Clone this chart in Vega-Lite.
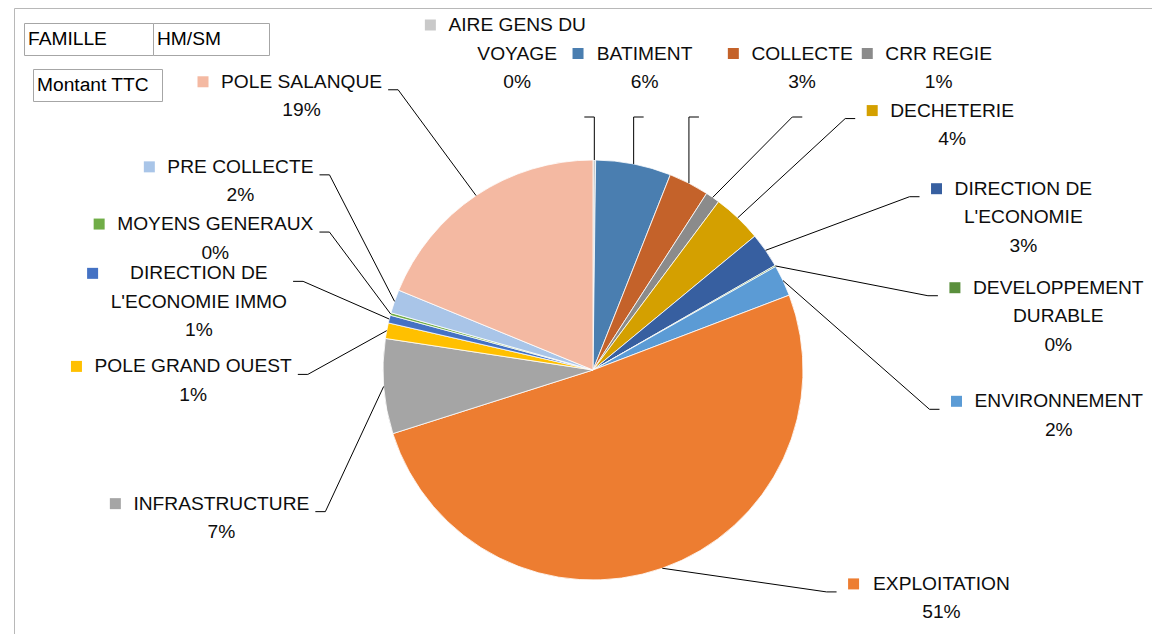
{
  "$schema": "https://vega.github.io/schema/vega-lite/v6.json",
  "width": 1158,
  "height": 724,
  "autosize": {"type": "none"},
  "padding": {"left": 14, "top": 8, "right": -20, "bottom": -98},
  "background": "#ffffff",
  "config": {"view": {"stroke": "#b8b8b8", "strokeWidth": 1}, "font": "Liberation Sans"},
  "resolve": {"scale": {"shape": "independent"}, "legend": {"shape": "independent"}},
  "layer": [
    {
      "data": {"values": [
        {"famille": "AIRE GENS DU VOYAGE", "part": 0.2},
        {"famille": "BATIMENT", "part": 5.8},
        {"famille": "COLLECTE", "part": 3.1},
        {"famille": "CRR REGIE", "part": 1.1},
        {"famille": "DECHETERIE", "part": 3.8},
        {"famille": "DIRECTION DE L'ECONOMIE", "part": 2.7},
        {"famille": "DEVELOPPEMENT DURABLE", "part": 0.1},
        {"famille": "ENVIRONNEMENT", "part": 2.4},
        {"famille": "EXPLOITATION", "part": 50.9},
        {"famille": "INFRASTRUCTURE", "part": 7.3},
        {"famille": "POLE GRAND OUEST", "part": 1.2},
        {"famille": "DIRECTION DE L'ECONOMIE IMMO", "part": 0.6},
        {"famille": "MOYENS GENERAUX", "part": 0.2},
        {"famille": "PRE COLLECTE", "part": 1.8},
        {"famille": "POLE SALANQUE", "part": 18.8}
      ]},
      "transform": [
        {"window": [{"op": "row_number", "as": "rang"}]},
        {"joinaggregate": [{"op": "sum", "field": "part", "as": "total"}]},
        {"window": [{"op": "sum", "field": "part", "as": "cum"}], "sort": [{"field": "rang"}], "frame": [null, 0]},
        {"calculate": "(datum.cum - datum.part / 2) / datum.total * 2 * PI", "as": "amid"},
        {"calculate": "datum.amid < PI ? 1 : -1", "as": "cote"},
        {"joinaggregate": [{"op": "count", "as": "n"}], "groupby": ["cote"]},
        {"window": [{"op": "row_number", "as": "j"}], "groupby": ["cote"], "sort": [{"field": "rang"}]},
        {"calculate": "datum.cote == 1 ? -9 + 134 * pow((datum.j - 1) / (datum.n - 1), 1.15) : 244 + 66 * pow((datum.j - 1) / (datum.n - 1), 0.7)", "as": "u"},
        {"calculate": "(0.8 * datum.u + 0.2 * datum.amid * 180 / PI) * PI / 180", "as": "phi"},
        {"calculate": "lastindexof(substring(datum.famille, 0, 17), ' ')", "as": "coupe"},
        {"calculate": "length(datum.famille) > 16 ? substring(datum.famille, 0, datum.coupe) : datum.famille", "as": "l1"},
        {"calculate": "length(datum.famille) > 16 ? substring(datum.famille, datum.coupe + 1) : ''", "as": "l2"},
        {"calculate": "format(datum.part / datum.total, '.0%')", "as": "pct"},
        {"calculate": "datum.l2 == '' ? [datum.l1, datum.pct] : [datum.l1, datum.l2, datum.pct]", "as": "texte"},
        {"calculate": "datum.l2 == '' ? 2 : 3", "as": "nl"},
        {"calculate": "19.2*(0.667*length(datum.l1)+0.055*length(replace(datum.l1,regexp('[^CDHNRU]','g'),''))+0.111*length(replace(datum.l1,regexp('[^GOQ]','g'),''))+0.166*length(replace(datum.l1,regexp('[^M]','g'),''))+0.277*length(replace(datum.l1,regexp('[^W]','g'),''))-0.056*length(replace(datum.l1,regexp('[^FTZ]','g'),''))-0.111*length(replace(datum.l1,regexp('[^L]','g'),''))-0.389*length(replace(datum.l1,regexp('[^I /]','g'),''))-0.476*length(replace(datum.l1,regexp(\"[^']\",'g'),'')))", "as": "w1"},
        {"calculate": "19.2*(0.667*length(datum.l2)+0.055*length(replace(datum.l2,regexp('[^CDHNRU]','g'),''))+0.111*length(replace(datum.l2,regexp('[^GOQ]','g'),''))+0.166*length(replace(datum.l2,regexp('[^M]','g'),''))+0.277*length(replace(datum.l2,regexp('[^W]','g'),''))-0.056*length(replace(datum.l2,regexp('[^FTZ]','g'),''))-0.111*length(replace(datum.l2,regexp('[^L]','g'),''))-0.389*length(replace(datum.l2,regexp('[^I /]','g'),''))-0.476*length(replace(datum.l2,regexp(\"[^']\",'g'),'')))", "as": "w2"},
        {"calculate": "max(datum.w1, datum.w2)", "as": "wmax"},
        {"calculate": "362 - (datum.cote == 1 ? (cos(datum.phi) > 0 ? 380 : 340) : 400) * cos(datum.phi)", "as": "ly0"},
        {"calculate": "74 - (datum.nl - 1) * 14.25", "as": "ymin"},
        {"calculate": "max(datum.ly0, datum.ymin)", "as": "ly"},
        {"calculate": "datum.ly0 < datum.ymin", "as": "haut"},
        {"calculate": "579 + (datum.cote == 1 ? 470 : 400) * sin(datum.phi) * (datum.haut ? 1.3 : 1)", "as": "lx"},
        {"calculate": "datum.ly - (datum.nl - 1) * 14.25", "as": "y1"},
        {"calculate": "datum.lx - datum.wmax / 2 - 18", "as": "sqx"},
        {"calculate": "579 + 210 * sin(datum.amid)", "as": "ex"},
        {"calculate": "362 - 210 * cos(datum.amid)", "as": "ey"},
        {"calculate": "datum.haut ? clamp(datum.ex, datum.sqx - 75, datum.lx + datum.wmax / 2 + 20) : (datum.cote == 1 ? datum.sqx - 27 : datum.lx + datum.wmax / 2 + 16)", "as": "elx"},
        {"calculate": "datum.haut ? datum.ly + (datum.nl - 1) * 14.25 + 35 : datum.y1 + 8", "as": "ely"},
        {"calculate": "datum.haut ? datum.elx + (datum.lx > datum.elx ? 10 : -10) : (datum.cote == 1 ? datum.sqx - 17 : datum.lx + datum.wmax / 2 + 6)", "as": "hx"}
      ],
      "layer": [
        {
          "mark": {"type": "arc", "outerRadius": 210, "stroke": "#ffffff", "strokeWidth": 0.8},
          "encoding": {
            "theta": {"field": "part", "type": "quantitative", "stack": true},
            "order": {"field": "rang", "type": "quantitative"},
            "color": {"field": "famille", "type": "nominal", "legend": null,
              "scale": {
                "domain": ["AIRE GENS DU VOYAGE", "BATIMENT", "COLLECTE", "CRR REGIE", "DECHETERIE", "DIRECTION DE L'ECONOMIE", "DEVELOPPEMENT DURABLE", "ENVIRONNEMENT", "EXPLOITATION", "INFRASTRUCTURE", "POLE GRAND OUEST", "DIRECTION DE L'ECONOMIE IMMO", "MOYENS GENERAUX", "PRE COLLECTE", "POLE SALANQUE"],
                "range": ["#c9c9c9", "#4a7eb0", "#c4622a", "#8b8b8b", "#d4a000", "#375fa0", "#5a8f3c", "#5b9bd5", "#ed7d31", "#a5a5a5", "#ffc000", "#4472c4", "#70ad47", "#a9c5e8", "#f4b9a2"]
              }}
          }
        },
        {
          "mark": {"type": "rule", "color": "#000000", "strokeWidth": 1},
          "encoding": {
            "x": {"field": "ex", "type": "quantitative", "scale": null},
            "y": {"field": "ey", "type": "quantitative", "scale": null},
            "x2": {"field": "elx"},
            "y2": {"field": "ely"}
          }
        },
        {
          "mark": {"type": "rule", "color": "#000000", "strokeWidth": 1},
          "encoding": {
            "x": {"field": "elx", "type": "quantitative", "scale": null},
            "y": {"field": "ely", "type": "quantitative", "scale": null},
            "x2": {"field": "hx"},
            "y2": {"field": "ely"}
          }
        },
        {
          "mark": {"type": "point", "shape": "square", "filled": true, "size": 121, "opacity": 1},
          "encoding": {
            "x": {"field": "sqx", "type": "quantitative", "scale": null},
            "y": {"field": "y1", "type": "quantitative", "scale": null},
            "color": {"field": "famille", "type": "nominal", "legend": null}
          }
        },
        {
          "mark": {"type": "text", "align": "center", "baseline": "middle", "lineHeight": 28.5, "font": "Liberation Sans", "fontSize": 19.2, "color": "#0d0d0d"},
          "encoding": {
            "x": {"field": "lx", "type": "quantitative", "scale": null},
            "y": {"field": "y1", "type": "quantitative", "scale": null},
            "text": {"field": "texte", "type": "nominal"}
          }
        }
      ]
    },
    {
      "data": {"values": [{"bouton": "FAMILLE"}]},
      "mark": {"type": "point", "opacity": 0},
      "encoding": {
        "shape": {"field": "bouton", "type": "nominal", "scale": {"range": ["M-1,-1L9.08,-1L9.08,1L-1,1Z"]},
          "legend": {"title": null, "orient": "none", "legendX": 10, "legendY": 15, "padding": 4, "strokeColor": "#a6a6a6", "fillColor": "#ffffff", "symbolSize": 576, "symbolOpacity": 0, "symbolStrokeWidth": 0, "labelOffset": -24, "labelFont": "Liberation Sans", "labelFontSize": 19.2, "labelColor": "#000000", "labelLimit": 400}}
      }
    },
    {
      "data": {"values": [{"bouton": "HM/SM"}]},
      "mark": {"type": "point", "opacity": 0},
      "encoding": {
        "shape": {"field": "bouton", "type": "nominal", "scale": {"range": ["M-1,-1L8,-1L8,1L-1,1Z"]},
          "legend": {"title": null, "orient": "none", "legendX": 139, "legendY": 15, "padding": 4, "strokeColor": "#a6a6a6", "fillColor": "#ffffff", "symbolSize": 576, "symbolOpacity": 0, "symbolStrokeWidth": 0, "labelOffset": -24, "labelFont": "Liberation Sans", "labelFontSize": 19.2, "labelColor": "#000000", "labelLimit": 400}}
      }
    },
    {
      "data": {"values": [{"bouton": "Montant TTC"}]},
      "mark": {"type": "point", "opacity": 0},
      "encoding": {
        "shape": {"field": "bouton", "type": "nominal", "scale": {"range": ["M-1,-1L9.08,-1L9.08,1L-1,1Z"]},
          "legend": {"title": null, "orient": "none", "legendX": 19, "legendY": 61, "padding": 4, "strokeColor": "#a6a6a6", "fillColor": "#ffffff", "symbolSize": 576, "symbolOpacity": 0, "symbolStrokeWidth": 0, "labelOffset": -24, "labelFont": "Liberation Sans", "labelFontSize": 19.2, "labelColor": "#000000", "labelLimit": 400}}
      }
    }
  ]
}
